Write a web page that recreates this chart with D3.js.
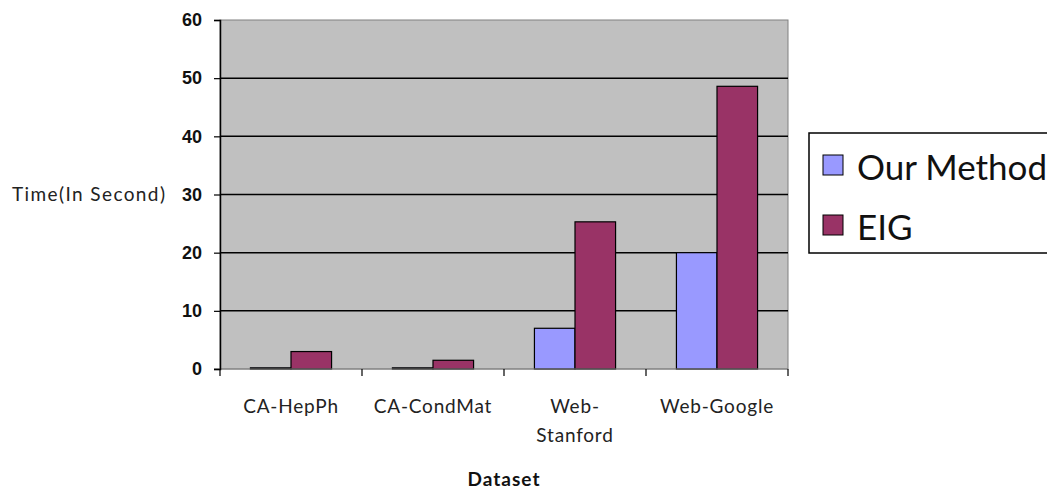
<!DOCTYPE html>
<html>
<head>
<meta charset="utf-8">
<script src="https://cdn.jsdelivr.net/npm/d3@7/dist/d3.min.js"></script>
<style>
  html, body { margin: 0; padding: 0; background: #fff; }
  svg { display: block; }
</style>
</head>
<body>
<svg id="chart" width="1047" height="489"></svg>
<script>
const categories = ["CA-HepPh", "CA-CondMat", "Web-Stanford", "Web-Google"];
const categoryLabels = [["CA-HepPh"], ["CA-CondMat"], ["Web-", "Stanford"], ["Web-Google"]];
const seriesNames = ["Our Method", "EIG"];
const ourMethod = [0.2, 0.2, 7.0, 20.0];
const eig = [3.0, 1.5, 25.3, 48.6];
const yTicks = [0, 10, 20, 30, 40, 50, 60];
const colors = ["#9999FF", "#993366"];

(function () {
const svg = d3.select("#chart");
const pLeft = 220, pRight = 788, pTop = 20, pBottom = 369;

const x = d3.scaleBand().domain(categories).range([pLeft, pRight]).paddingInner(0).paddingOuter(0);
const xs = d3.scaleBand().domain(seriesNames).range([0, x.bandwidth()]).paddingInner(0).paddingOuter(0.75);
const y = d3.scaleLinear().domain([0, 60]).range([pBottom, pTop]);

// plot area
svg.append("rect")
  .attr("x", pLeft).attr("y", pTop)
  .attr("width", pRight - pLeft).attr("height", pBottom - pTop)
  .attr("fill", "#C0C0C0").attr("stroke", "#808080").attr("stroke-width", 1);

// gridlines
svg.append("g").selectAll("line")
  .data(yTicks.filter(d => d > 0 && d < 60))
  .join("line")
  .attr("x1", pLeft).attr("x2", pRight)
  .attr("y1", d => y(d)).attr("y2", d => y(d))
  .attr("stroke", "#000").attr("stroke-width", 1.5);

// bars
const data = categories.map((c, i) => ({ cat: c, vals: [ourMethod[i], eig[i]] }));
const groups = svg.append("g").selectAll("g")
  .data(data).join("g")
  .attr("transform", d => `translate(${x(d.cat)},0)`);
groups.selectAll("rect")
  .data(d => d.vals.map((v, j) => ({ name: seriesNames[j], v, j })))
  .join("rect")
  .attr("x", d => xs(d.name))
  .attr("width", xs.bandwidth())
  .attr("y", d => y(d.v))
  .attr("height", d => y(0) - y(d.v))
  .attr("fill", d => colors[d.j])
  .attr("stroke", "#000").attr("stroke-width", 1.2);

// x axis line
svg.append("line")
  .attr("x1", pLeft - 6).attr("x2", pRight)
  .attr("y1", pBottom).attr("y2", pBottom)
  .attr("stroke", "#808080").attr("stroke-width", 1.2);

// x tick marks at category boundaries
const boundaries = categories.map(c => x(c)).concat([x(categories[categories.length - 1]) + x.bandwidth()]);
svg.append("g").selectAll("line")
  .data(boundaries).join("line")
  .attr("x1", d => d).attr("x2", d => d)
  .attr("y1", pBottom).attr("y2", pBottom + 7)
  .attr("stroke", "#000").attr("stroke-width", 1.2);

// y axis
const yAxis = svg.append("g")
  .attr("transform", `translate(${pLeft},0)`)
  .call(d3.axisLeft(y).tickValues(yTicks).tickSize(6).tickPadding(12));
yAxis.select(".domain").attr("stroke", "#000").attr("stroke-width", 1.5);
yAxis.selectAll(".tick line").attr("stroke", "#000").attr("stroke-width", 1.2);
yAxis.selectAll(".tick text")
  .attr("font-family", "'Liberation Sans', Arial, sans-serif")
  .attr("font-size", 18).attr("font-weight", "bold").attr("fill", "#111");

// category labels
const catText = svg.append("g").selectAll("text")
  .data(categories).join("text")
  .attr("x", d => x(d) + x.bandwidth() / 2)
  .attr("y", 413)
  .attr("text-anchor", "middle")
  .attr("font-family", "Lato, 'Liberation Sans', sans-serif")
  .attr("font-size", 19)
  .attr("letter-spacing", 0.8)
  .attr("fill", "#222");
catText.each(function(d, i) {
  const t = d3.select(this);
  categoryLabels[i].forEach((line, k) => {
    t.append("tspan").attr("x", x(d) + x.bandwidth() / 2).attr("dy", k === 0 ? 0 : 29).text(line);
  });
});

// axis titles
svg.append("text")
  .attr("x", (pLeft + pRight) / 2).attr("y", 486)
  .attr("text-anchor", "middle")
  .attr("font-family", "Lato, 'Liberation Sans', sans-serif")
  .attr("font-size", 19).attr("font-weight", "bold")
  .attr("letter-spacing", 1)
  .attr("fill", "#111")
  .text("Dataset");

svg.append("text")
  .attr("x", 12).attr("y", 201)
  .attr("font-family", "Lato, 'Liberation Sans', sans-serif")
  .attr("font-size", 19)
  .attr("letter-spacing", 1.4)
  .attr("fill", "#222")
  .text("Time(In Second)");

// legend
const legend = svg.append("g");
legend.append("rect")
  .attr("x", 809).attr("y", 133).attr("width", 260).attr("height", 120)
  .attr("fill", "#fff").attr("stroke", "#000").attr("stroke-width", 1.5);
const items = legend.selectAll("g.item")
  .data(seriesNames).join("g").attr("class", "item")
  .attr("transform", (d, i) => `translate(0,${i * 60})`);
items.append("rect")
  .attr("x", 823).attr("y", 155).attr("width", 20).attr("height", 20)
  .attr("fill", (d, i) => colors[i]).attr("stroke", "#000").attr("stroke-width", 1);
items.append("text")
  .attr("x", 857).attr("y", 180)
  .attr("font-family", "Lato, 'Liberation Sans', sans-serif")
  .attr("font-size", 35)
  .attr("fill", "#111")
  .text(d => d);
})();
</script>
</body>
</html>
